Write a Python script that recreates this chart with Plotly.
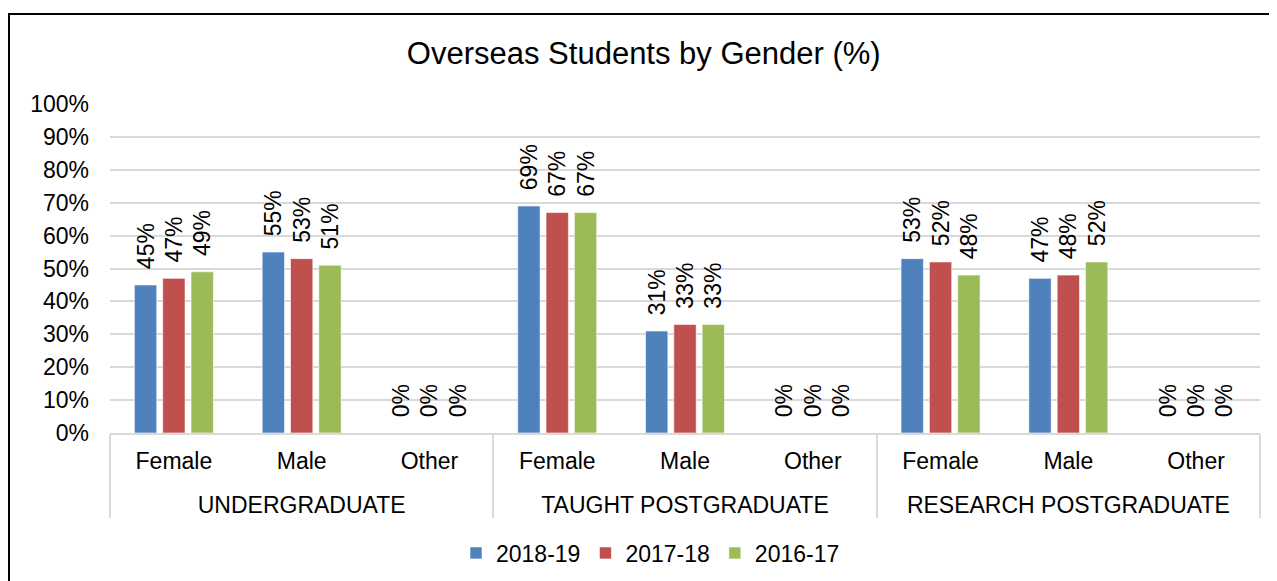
import plotly.graph_objects as go

levels = ["UNDERGRADUATE", "TAUGHT POSTGRADUATE", "RESEARCH POSTGRADUATE"]
genders = ["Female", "Male", "Other"]
series_names = ["2018-19", "2017-18", "2016-17"]
colors = ["#4F81BD", "#C0504D", "#9BBB59"]
values_2018_19 = [45, 55, 0, 69, 31, 0, 53, 47, 0]
values_2017_18 = [47, 53, 0, 67, 33, 0, 52, 48, 0]
values_2016_17 = [49, 51, 0, 67, 33, 0, 48, 52, 0]
all_values = [values_2018_19, values_2017_18, values_2016_17]

inner = [g for _ in levels for g in genders]
pos = list(range(len(inner)))
ng = len(genders)
group_centers = [i * ng + (ng - 1) / 2 for i in range(len(levels))]
dividers = [i * ng - 0.5 for i in range(len(levels) + 1)]
xrange = [-0.5, len(inner) - 0.5]

FONT = "Liberation Sans, Arial, sans-serif"
W, H = 1269, 573          # page has an 8px body margin
L, R, T, B = 102, 17, 96, 148
PW, PH = W - L - R, H - T - B
GRID = "#D9D9D9"
NB = "\u00a0\u00a0"

fig = go.Figure()
for name, vals, col in zip(series_names, all_values, colors):
    fig.add_trace(go.Bar(
        x=pos, y=[v / 100 for v in vals], name=name,
        marker=dict(color=col, line=dict(color="rgba(255,255,255,0.6)", width=1)),
        text=[f"{NB}{v}%" for v in vals], textposition="outside", textangle=-90,
        cliponaxis=False, constraintext="none",
        textfont=dict(family=FONT, size=23, color="#000000"),
        hovertext=[f"{g}: {v}%" for g, v in zip(inner, vals)], hoverinfo="text+name",
    ))

# invisible helper traces so the overlay axes (group labels, dividers) are drawn
fig.add_trace(go.Scatter(x=group_centers, y=[0] * len(group_centers), xaxis="x2",
                         mode="markers", marker=dict(opacity=0), showlegend=False,
                         hoverinfo="skip"))
fig.add_trace(go.Scatter(x=dividers, y=[0] * len(dividers), xaxis="x3",
                         mode="markers", marker=dict(opacity=0), showlegend=False,
                         hoverinfo="skip"))

fig.update_layout(
    width=W, height=H,
    margin=dict(l=L, r=R, t=T, b=B, autoexpand=False),
    paper_bgcolor="white", plot_bgcolor="white",
    barmode="group", bargap=0.335, bargroupgap=0.21,
    font=dict(family=FONT, size=23, color="#000000"),
    title=dict(text="Overseas Students by Gender (%)", x=0.501, xanchor="center",
               y=1 - 45 / H, yanchor="middle",
               font=dict(family=FONT, size=31, color="#000000")),
    showlegend=True,
    legend=dict(orientation="h", x=0.47, xanchor="center", y=-(545 - (T + PH)) / PH,
                yanchor="middle", font=dict(family=FONT, size=23), traceorder="normal",
                itemwidth=30),
    yaxis=dict(range=[0, 1], tickvals=[i / 10 for i in range(11)],
               tickformat=".0%", showgrid=True, gridcolor=GRID, gridwidth=1.5,
               zeroline=False, ticks="", ticklen=0, showline=False,
               ticklabelstandoff=20, tickfont=dict(family=FONT, size=23)),
    xaxis=dict(range=xrange, tickmode="array", tickvals=pos, ticktext=inner,
               showline=True, linecolor=GRID, linewidth=1.5, showgrid=False,
               zeroline=False, ticks="", ticklabelstandoff=7,
               tickfont=dict(family=FONT, size=23)),
    xaxis2=dict(overlaying="x", anchor="y", side="bottom", range=xrange,
                tickmode="array", tickvals=group_centers, ticktext=levels,
                showline=False, showgrid=False, zeroline=False, ticks="",
                ticklabelstandoff=56, tickfont=dict(family=FONT, size=23)),
    xaxis3=dict(overlaying="x", anchor="y", side="bottom", range=xrange,
                tickmode="array", tickvals=dividers, ticktext=["" for _ in dividers],
                showline=False, showgrid=False, zeroline=False, ticks="outside",
                ticklen=84, tickwidth=1.5, tickcolor=GRID),
    shapes=[dict(type="rect", xref="paper", yref="paper",
                 x0=(1 - L) / PW, x1=1.2, y0=(T + PH - 6) / PH, y1=-0.8,
                 line=dict(color="black", width=2), layer="below")],
)

fig.write_html("out.html")
